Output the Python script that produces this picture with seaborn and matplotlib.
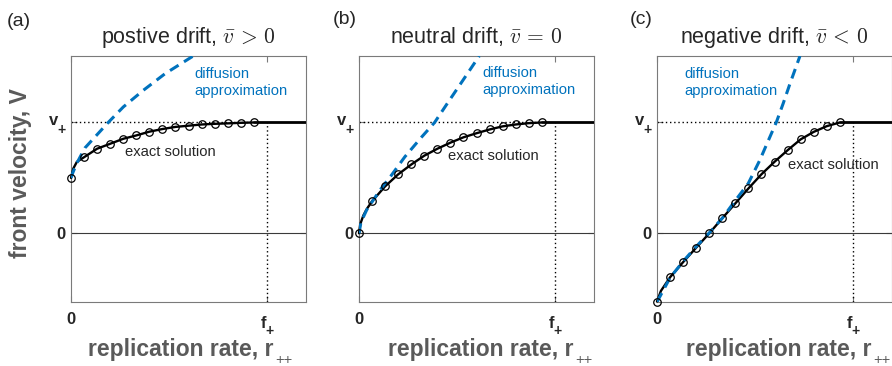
import matplotlib
matplotlib.use("Agg")
import matplotlib.pyplot as plt
import seaborn as sns
import numpy as np

# ---------------- data ----------------
r_markers = [0.0, 0.067, 0.133, 0.2, 0.267, 0.333, 0.4, 0.467, 0.533,
             0.6, 0.667, 0.733, 0.8, 0.867, 0.933]

exact_v_a = [0.50, 0.687, 0.763, 0.808, 0.853, 0.883, 0.917, 0.941, 0.960,
             0.971, 0.982, 0.988, 0.992, 0.997, 1.0]
exact_v_b = [0.0, 0.29, 0.423, 0.532, 0.621, 0.70, 0.763, 0.818, 0.866,
             0.903, 0.937, 0.965, 0.982, 0.994, 1.0]
exact_v_c = [-0.616, -0.396, -0.261, -0.13, 0.0, 0.135, 0.27, 0.405, 0.532,
             0.645, 0.75, 0.847, 0.915, 0.967, 1.0]

# extra points on the exact curve close to r = 0 (steep start)
extra_r_a = [0.012, 0.03]
extra_v_a = [0.585, 0.645]
extra_r_b = [0.006, 0.022, 0.04]
extra_v_b = [0.08, 0.16, 0.22]
extra_r_c = [0.02]
extra_v_c = [-0.52]

diff_r_a = [0.0, 0.01, 0.029, 0.071, 0.131, 0.19, 0.267, 0.369, 0.48, 0.624]
diff_v_a = [0.5, 0.55, 0.63, 0.77, 0.886, 1.0, 1.14, 1.29, 1.44, 1.6]
diff_r_b = [0.0, 0.01, 0.039, 0.107, 0.166, 0.234, 0.318, 0.386, 0.454, 0.538, 0.614]
diff_v_b = [0.0, 0.10, 0.21, 0.39, 0.525, 0.69, 0.865, 1.0, 1.18, 1.40, 1.6]
diff_r_c = [0.0, 0.067, 0.135, 0.2, 0.27, 0.335, 0.389, 0.466, 0.525, 0.568,
            0.61, 0.644, 0.679, 0.73]
diff_v_c = [-0.62, -0.40, -0.25, -0.12, 0.01, 0.14, 0.27, 0.45, 0.66, 0.835,
            1.005, 1.17, 1.35, 1.6]

titles = [r'postive drift, $\bar{v}\,>\,0$',
          r'neutral drift, $\bar{v}\,=\,0$',
          r'negative drift, $\bar{v}\,<\,0$']
panel_labels = ['(a)', '(b)', '(c)']
x_tick_main = 'f'
y_tick_main = 'v'
tick_sub = '+'
x_label = 'replication rate, r'
x_label_sub = '++'
y_label = 'front velocity, V'
diff_text = 'diffusion\napproximation'
exact_text = 'exact solution'

# annotation anchor positions (data coords)
diff_text_pos = [(0.628, 1.36), (0.628, 1.37), (0.139, 1.36)]
exact_text_pos = [(0.276, 0.735), (0.457, 0.70), (0.67, 0.615)]

# ---------------- style ----------------
sns.set_theme(style="ticks")
plt.rcParams['font.family'] = ['Liberation Sans', 'DejaVu Sans']

BLUE = '#0072BD'
DARK = '#262626'
LABEL_GRAY = '#5a5a5a'
SPINE = '#7a7a7a'

fig = plt.figure(figsize=(8.92, 3.66), dpi=100)
W, H = 892.0, 366.0
lefts = [71, 359, 657]
ax_w, ax_top, ax_bot = 235, 56, 302
xlabel_x = [0.466, 0.519, 0.52]
label_px = [(7, 22), (333, 20), (630, 20)]

exact_sets = [
    (exact_v_a, extra_r_a, extra_v_a, diff_r_a, diff_v_a),
    (exact_v_b, extra_r_b, extra_v_b, diff_r_b, diff_v_b),
    (exact_v_c, extra_r_c, extra_v_c, diff_r_c, diff_v_c),
]

XMAX, YMIN, YMAX = 1.2, -0.62, 1.6

for i, (ev, xr, xv, dr, dv) in enumerate(exact_sets):
    ax = fig.add_axes([lefts[i] / W, (H - ax_bot) / H, ax_w / W, (ax_bot - ax_top) / H])
    ax.set_xlim(0, XMAX)
    ax.set_ylim(YMIN, YMAX)

    r_end = r_markers[-1]
    # reference lines
    ax.axhline(0, color='#3a3a3a', lw=0.8, zorder=1)
    ax.hlines(1.0, 0, r_end, colors='black', linestyles=(0, (1, 2)), lw=1.0, zorder=1)
    ax.vlines(1.0, YMIN, 1.0, colors='black', linestyles=(0, (1, 2)), lw=1.0, zorder=1)

    # exact solution line (markers + extra points)
    lr = list(r_markers) + list(xr)
    lv = list(ev) + list(xv)
    order = np.argsort(lr)
    lr = [lr[k] for k in order]
    lv = [lv[k] for k in order]
    sns.lineplot(x=lr, y=lv, ax=ax, color='black', lw=1.7, zorder=3, clip_on=False)
    # flat continuation at v+
    sns.lineplot(x=[r_end, XMAX], y=[1.0, 1.0], ax=ax, color='black', lw=2.0, zorder=3)

    # diffusion approximation
    sns.lineplot(x=dr, y=dv, ax=ax, color=BLUE, lw=2.2, zorder=4,
                 linestyle=(0, (3.3, 2.1)))

    # markers
    sns.lineplot(x=r_markers, y=ev, ax=ax, linestyle='none', marker='o',
                 markersize=5.4, markerfacecolor='none', markeredgecolor='black',
                 markeredgewidth=0.9, color='black', zorder=6, clip_on=False)

    # annotations
    ax.text(*diff_text_pos[i], diff_text, color=BLUE, fontsize=10.6,
            ha='left', va='center', linespacing=1.2)
    ax.text(*exact_text_pos[i], exact_text, color=DARK, fontsize=10.6,
            ha='left', va='center')

    # ticks: '0' via tick labels, 'f+' / 'v+' as positioned texts
    ax.set_xticks([0, 1])
    ax.set_xticklabels(['0', ''], fontweight='bold', fontsize=12, color=DARK)
    ax.set_yticks([0, 1])
    ax.set_yticklabels(['0', ''], fontweight='bold', fontsize=12, color=DARK)
    ax.tick_params(direction='in', length=4, width=0.8, color=SPINE,
                   top=True, right=True, pad=4)
    ax.tick_params(axis='x', pad=7)

    ax.annotate(x_tick_main, xy=(1, 0), xycoords=('data', 'axes fraction'),
                xytext=(-3, -26), textcoords='offset pixels', ha='center',
                va='baseline', fontsize=12, fontweight='bold', color=DARK,
                annotation_clip=False)
    ax.annotate(tick_sub, xy=(1, 0), xycoords=('data', 'axes fraction'),
                xytext=(2.5, -29), textcoords='offset pixels', ha='center',
                va='center', fontsize=10, fontweight='bold', color=DARK,
                annotation_clip=False)
    ax.annotate(y_tick_main, xy=(0, 1), xycoords=('axes fraction', 'data'),
                xytext=(-17, -3), textcoords='offset pixels', ha='center',
                va='baseline', fontsize=12, fontweight='bold', color=DARK,
                annotation_clip=False)
    ax.annotate(tick_sub, xy=(0, 1), xycoords=('axes fraction', 'data'),
                xytext=(-9.5, -8), textcoords='offset pixels', ha='center',
                va='center', fontsize=10, fontweight='bold', color=DARK,
                annotation_clip=False)

    for s in ax.spines.values():
        s.set_visible(True)
        s.set_color(SPINE)
        s.set_linewidth(0.8)

    ax.set_xlabel(x_label, fontsize=16.5, fontweight='bold', color=LABEL_GRAY)
    ax.xaxis.set_label_coords(xlabel_x[i], -0.146)
    ax.annotate(x_label_sub, xy=(1, 0), xycoords=ax.xaxis.label,
                xytext=(1.5, 1), textcoords='offset pixels', ha='left',
                va='center', fontsize=10.5, color=LABEL_GRAY, annotation_clip=False)
    if i == 0:
        ax.set_ylabel(y_label, fontsize=16.5, fontweight='bold', color=LABEL_GRAY)
        ax.yaxis.set_label_coords(-0.166, 0.525)
    else:
        ax.set_ylabel('')

    ax.set_title(titles[i], fontsize=15.5, color=DARK, pad=9, math_fontfamily='cm')
    fig.text(label_px[i][0] / W, 1 - label_px[i][1] / H, panel_labels[i],
             fontsize=14, color=DARK, ha='left', va='center')

fig.savefig('out.png', dpi=100)
